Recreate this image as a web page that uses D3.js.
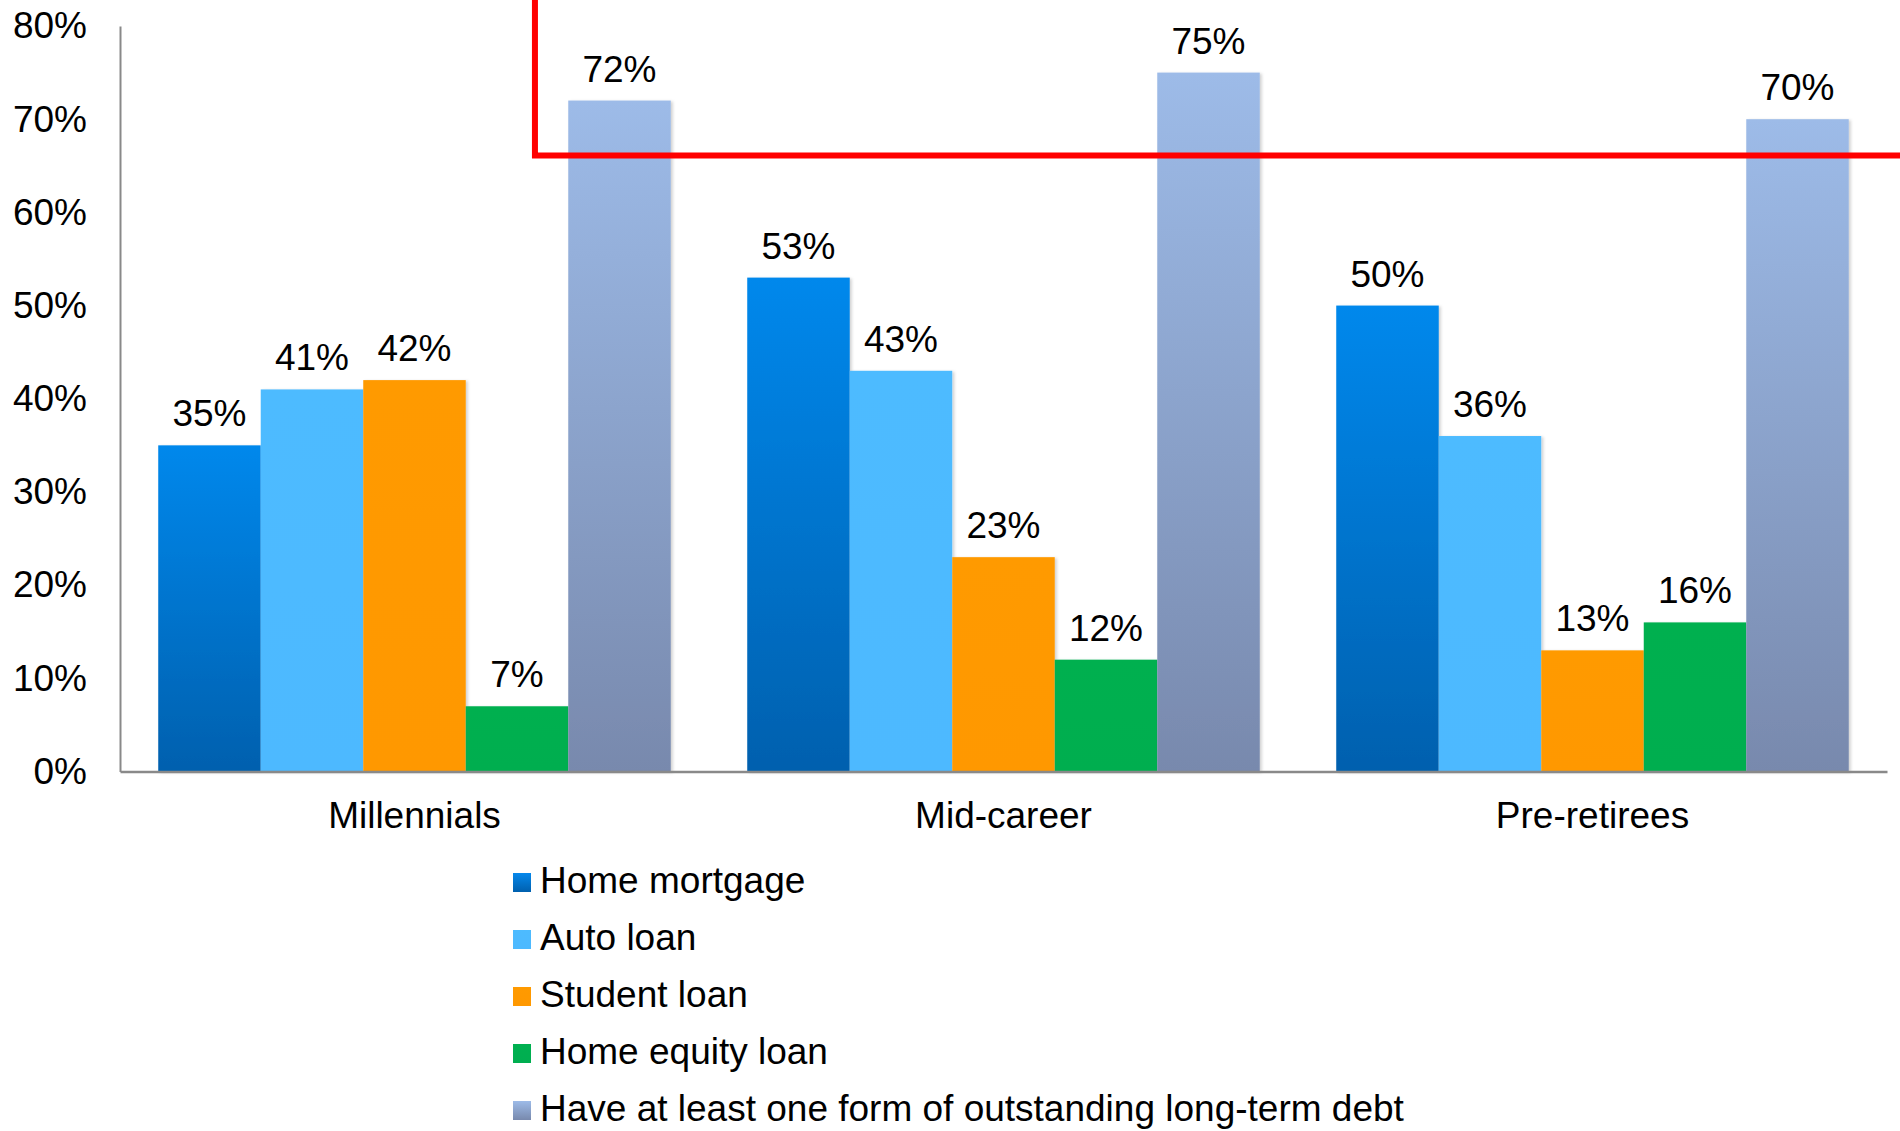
<!DOCTYPE html>
<html>
<head>
<meta charset="utf-8">
<script src="https://cdn.jsdelivr.net/npm/d3@7"></script>
<style>
  body { margin: 0; background: #fff; }
  svg text { font-family: "Liberation Sans", Arial, sans-serif; fill: #000; }
</style>
</head>
<body>
<div id="chart"></div>
<script>
// Chart data
const groups = ["Millennials", "Mid-career", "Pre-retirees"];
const seriesNames = ["Home mortgage", "Auto loan", "Student loan", "Home equity loan",
                     "Have at least one form of outstanding long-term debt"];
const homeMortgage = [35, 53, 50];
const autoLoan = [41, 43, 36];
const studentLoan = [42, 23, 13];
const homeEquity = [7, 12, 16];
const atLeastOne = [72, 75, 70];
const yTicks = [0, 10, 20, 30, 40, 50, 60, 70, 80];
const thresholdValue = 66.1; // red annotation line

const seriesValues = [homeMortgage, autoLoan, studentLoan, homeEquity, atLeastOne];

// colours: [top, bottom] of each bar's gradient
const seriesColors = [
  ["#0588ec", "#0060ae"],
  ["#4dbbff", "#4db9ff"],
  ["#ff9a00", "#ff9800"],
  ["#00b050", "#00ae50"],
  ["#9dbbe8", "#7889ad"]
];

const W = 1900, H = 1131;
const plot = { left: 120, right: 1887, top: 26, bottom: 771.5 };
const fontSize = "37px";

const svg = d3.select("#chart").append("svg")
    .attr("width", W)
    .attr("height", H);

const defs = svg.append("defs");
seriesColors.forEach((c, i) => {
  const g = defs.append("linearGradient")
      .attr("id", "grad" + i)
      .attr("x1", 0).attr("y1", 0).attr("x2", 0).attr("y2", 1);
  g.append("stop").attr("offset", "0%").attr("stop-color", c[0]);
  g.append("stop").attr("offset", "100%").attr("stop-color", c[1]);
});
defs.append("filter").attr("id", "shadow")
    .attr("x", "-10%").attr("y", "-10%").attr("width", "130%").attr("height", "130%")
  .append("feDropShadow")
    .attr("dx", 2).attr("dy", 1).attr("stdDeviation", 1.5)
    .attr("flood-color", "#000").attr("flood-opacity", 0.18);

// Scales
const x0 = d3.scaleBand()
    .domain(groups)
    .range([plot.left, plot.right])
    .padding(0);

const x1 = d3.scaleBand()
    .domain(seriesNames)
    .range([0, x0.bandwidth()])
    .paddingInner(0)
    .paddingOuter(0.373);

const y = d3.scaleLinear()
    .domain([0, 80])
    .range([plot.bottom, plot.top]);

// Bars
const rows = [];
groups.forEach((g, gi) => {
  seriesNames.forEach((s, si) => {
    rows.push({ group: g, series: s, si: si, value: seriesValues[si][gi] });
  });
});

svg.append("g")
  .selectAll("rect")
  .data(rows)
  .join("rect")
    .attr("x", d => x0(d.group) + x1(d.series))
    .attr("y", d => y(d.value))
    .attr("width", x1.bandwidth())
    .attr("height", d => y(0) - y(d.value))
    .attr("fill", d => `url(#grad${d.si})`)
    .attr("filter", "url(#shadow)");

// Value labels
svg.append("g")
  .selectAll("text")
  .data(rows)
  .join("text")
    .attr("x", d => x0(d.group) + x1(d.series) + x1.bandwidth() / 2)
    .attr("y", d => y(d.value) - 19)
    .attr("text-anchor", "middle")
    .style("font-size", fontSize)
    .text(d => d.value + "%");

// Y axis
const yAxis = svg.append("g")
    .attr("transform", `translate(${plot.left},0)`)
    .call(d3.axisLeft(y).tickValues(yTicks).tickSize(0).tickSizeOuter(0).tickPadding(33)
      .tickFormat(d => d + "%"));
yAxis.select(".domain").attr("stroke", "#898989").attr("stroke-width", 2);
yAxis.selectAll("text")
    .style("font-size", fontSize)
    .style("font-family", "'Liberation Sans', Arial, sans-serif")
    .attr("fill", "#000");

// X axis
const xAxis = svg.append("g")
    .attr("transform", `translate(0,${plot.bottom})`)
    .call(d3.axisBottom(x0).tickSize(0).tickSizeOuter(0).tickPadding(30));
xAxis.select(".domain").attr("stroke", "#898989").attr("stroke-width", 2.5);
xAxis.selectAll("text")
    .style("font-size", fontSize)
    .style("font-family", "'Liberation Sans', Arial, sans-serif")
    .attr("fill", "#000");

// Red annotation line
const redX = x0("Millennials") + x1("Home equity loan") + x1.bandwidth() * 0.675;
svg.append("path")
    .attr("d", d3.line()([[redX, 0], [redX, y(thresholdValue)], [W, y(thresholdValue)]]))
    .attr("fill", "none")
    .attr("stroke", "#ff0000")
    .attr("stroke-width", 6)
    .attr("stroke-linejoin", "miter");

// Legend
const legend = svg.append("g")
    .attr("transform", "translate(513,893)");

const item = legend.selectAll("g")
  .data(seriesNames)
  .join("g")
    .attr("transform", (d, i) => `translate(0,${i * 57})`);

item.append("rect")
    .attr("x", 0)
    .attr("y", -20)
    .attr("width", 18)
    .attr("height", 19)
    .attr("fill", (d, i) => `url(#grad${i})`);

item.append("text")
    .attr("x", 27)
    .attr("y", 0)
    .style("font-size", fontSize)
    .text(d => d);
</script>
</body>
</html>
